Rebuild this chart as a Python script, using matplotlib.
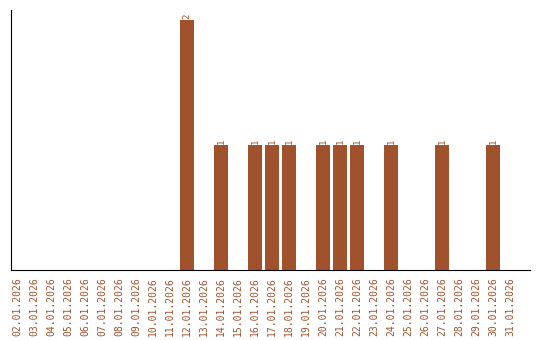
import matplotlib
matplotlib.use('Agg')
import matplotlib.pyplot as plt

days = ['%02d.01.2026' % d for d in range(2, 32)]
counts = [0] * len(days)
hits = {12: 2, 14: 1, 16: 1, 17: 1, 18: 1, 20: 1, 21: 1, 22: 1, 24: 1, 27: 1, 30: 1}
for d, v in hits.items():
    counts[d - 2] = v

color = '#A0522D'

fig = plt.figure(figsize=(5.4, 3.4), dpi=100)
ax = fig.add_axes([11 / 540, 70 / 340, 519 / 540, 260 / 340])
x = list(range(len(days)))
bars = ax.bar(x, counts, width=0.82, color=color)
for xi, v in zip(x, counts):
    if v > 0:
        ax.text(xi, v + 0.01, str(v), rotation=90, ha='center', va='bottom',
                color=color, fontsize=6.5, family='DejaVu Sans Mono')

ax.set_xlim(-0.35, 30.18)
ax.set_ylim(0, 2.08)
ax.set_xticks(x)
ax.set_xticklabels(days, rotation=90, color=color, fontsize=7, family='DejaVu Sans Mono')
ax.tick_params(axis='x', length=0, pad=5)
ax.set_yticks([])
ax.spines['top'].set_visible(False)
ax.spines['right'].set_visible(False)

fig.savefig('out.png', dpi=100)
